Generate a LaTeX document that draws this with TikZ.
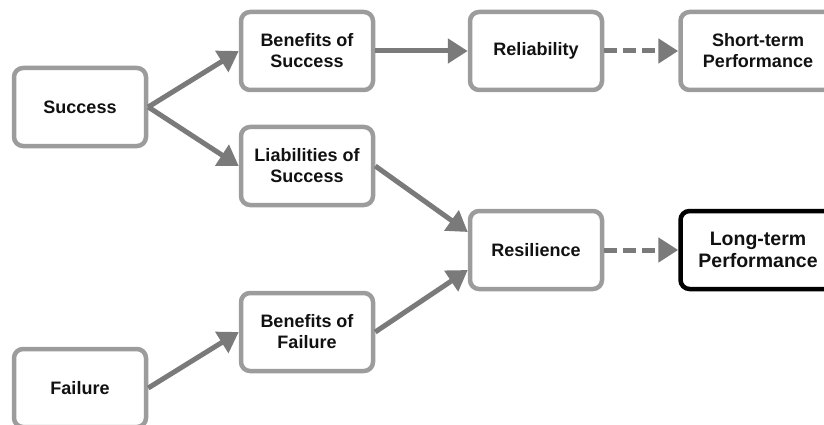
\documentclass[tikz,border=0pt]{standalone}
\usepackage{fontspec}
\setmainfont{Liberation Sans}
\usetikzlibrary{arrows.meta}
\definecolor{boxgray}{HTML}{9C9C9C}
\definecolor{arrowgray}{HTML}{7A7A7A}
\definecolor{txt}{HTML}{111111}
\tikzset{
  box/.style={draw=boxgray, line width=4.5pt, rounded corners=9pt, fill=white,
    minimum width=132pt, minimum height=78pt, align=center, inner sep=0pt,
    text=txt, font=\fontsize{18}{21}\selectfont\bfseries},
  widebox/.style={box, minimum width=155pt},
  keybox/.style={widebox, draw=black, font=\fontsize{19.5}{22}\selectfont\bfseries},
  arr/.style={draw=arrowgray, line width=5pt, -{Triangle[length=20pt,width=24pt]}},
  darr/.style={arr, dash pattern=on 13pt off 6pt}
}
\begin{document}
\begin{tikzpicture}[x=1pt,y=-1pt]
\useasboundingbox (0,0) rectangle (824,425);
\begin{scope}
\clip (0,0) rectangle (824,425);
\node[box] (succ) at (80,107) {Success};
\node[box] (fail) at (80,388) {Failure};
\node[box] (bos) at (307,51) {Benefits of\\Success};
\node[box] (los) at (307,166) {Liabilities of\\Success};
\node[box] (bof) at (307,332) {Benefits of\\Failure};
\node[box] (rel) at (536,51) {Reliability};
\node[box] (res) at (536,250) {Resilience};
\node[widebox] (stp) at (758,51) {Short-term\\Performance};
\node[keybox] (ltp) at (758,250) {Long-term\\Performance};

\draw[arr] (succ.east) -- (bos.west);
\draw[arr] (succ.east) -- (los.west);
\draw[arr] (bos.east) -- (rel.west);
\draw[darr] (rel.east) -- (stp.west);
\draw[arr] (los.east) -- ([yshift=18pt]res.west);
\draw[arr] (bof.east) -- ([yshift=-20pt]res.west);
\draw[arr] (fail.east) -- (bof.west);
\draw[darr] (res.east) -- (ltp.west);
\end{scope}
\end{tikzpicture}
\end{document}
